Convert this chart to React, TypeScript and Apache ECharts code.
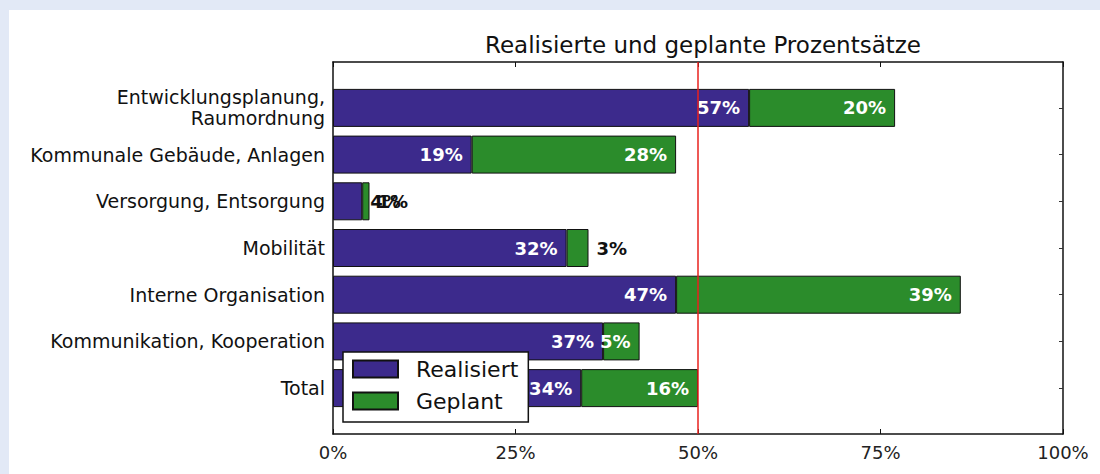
import React, { useEffect, useRef } from "react";
import * as echarts from "echarts";

const categories = [
  "Entwicklungsplanung,\nRaumordnung",
  "Kommunale Gebäude, Anlagen",
  "Versorgung, Entsorgung",
  "Mobilität",
  "Interne Organisation",
  "Kommunikation, Kooperation",
  "Total",
];
const realisiert = [57, 19, 4, 32, 47, 37, 34];
const geplant = [20, 28, 1, 3, 39, 5, 16];
const xTicks = [0, 25, 50, 75, 100];
const referenceLine = 50;

const FONT = "DejaVu Sans";
const PURPLE = "#3c2a8c";
const GREEN = "#2b8c2b";

function labelFor(v: number) {
  if (v >= 5) {
    return {
      show: true,
      position: "insideRight",
      distance: 9,
      color: "#fff",
      fontWeight: "bold",
      fontSize: 18,
      fontFamily: FONT,
      formatter: "{c}%",
    };
  }
  return {
    show: true,
    position: "right",
    distance: 8,
    color: "#111",
    fontWeight: "bold",
    fontSize: 18,
    fontFamily: FONT,
    formatter: "{c}%",
  };
}

export default function App() {
  const ref = useRef<HTMLDivElement>(null);
  useEffect(() => {
    if (!ref.current) return;
    const chart = echarts.init(ref.current, null, { renderer: "svg" });
    const left = 333;
    const width = 730;
    const frameTop = 62;
    const frameH = 372;
    const band = 46.7;
    const innerH = band * categories.length;
    const innerTop = frameTop + (frameH - innerH) / 2;
    const axisLine = { show: true, onZero: false, lineStyle: { color: "#111", width: 1.5 } };
    chart.setOption({
      animation: false,
      backgroundColor: "#fff",
      textStyle: { fontFamily: FONT },
      graphic: [
        { type: "rect", shape: { x: 0, y: 0, width: 1100, height: 10 }, style: { fill: "#e2e9f6" }, silent: true },
        { type: "rect", shape: { x: 0, y: 0, width: 9, height: 474 }, style: { fill: "#e2e9f6" }, silent: true },
      ],
      title: {
        text: "Realisierte und geplante Prozentsätze",
        left: left + width / 2,
        textAlign: "center",
        top: 28,
        textStyle: { fontFamily: FONT, fontSize: 23, fontWeight: "normal", color: "#111" },
      },
      legend: {
        data: ["Realisiert", "Geplant"],
        orient: "vertical",
        left: 343,
        top: 352,
        backgroundColor: "#fff",
        borderColor: "#111",
        borderWidth: 1.5,
        borderRadius: 0,
        padding: [5, 10, 9, 9],
        itemWidth: 45,
        itemHeight: 17,
        itemGap: 8,
        icon: "rect",
        textStyle: { fontFamily: FONT, fontSize: 22, color: "#111", lineHeight: 24, padding: [0, 0, 0, 13] },
        z: 10,
      },
      grid: [
        { left, top: frameTop, width, height: frameH, containLabel: false },
        { left, top: innerTop, width, height: innerH, containLabel: false },
      ],
      xAxis: [
        {
          gridIndex: 0,
          type: "value",
          min: 0,
          max: 100,
          interval: 25,
          position: "bottom",
          axisLine,
          axisTick: { show: true, inside: true, length: 5, lineStyle: { color: "#111", width: 1 } },
          axisLabel: {
            show: true,
            formatter: (v: number) => (xTicks.includes(v) ? `${v}%` : ""),
            fontFamily: FONT,
            fontSize: 18,
            color: "#222",
            margin: 9,
          },
          splitLine: { show: false },
        },
        {
          gridIndex: 0,
          type: "value",
          min: 0,
          max: 100,
          interval: 25,
          position: "top",
          axisLine,
          axisTick: { show: true, inside: true, length: 5, lineStyle: { color: "#111", width: 1 } },
          axisLabel: { show: false },
          splitLine: { show: false },
        },
        {
          gridIndex: 1,
          type: "value",
          min: 0,
          max: 100,
          show: false,
        },
      ],
      yAxis: [
        {
          gridIndex: 0,
          type: "value",
          min: 0,
          max: 1,
          position: "left",
          axisLine,
          axisTick: { show: false },
          axisLabel: { show: false },
          splitLine: { show: false },
        },
        {
          gridIndex: 0,
          type: "value",
          min: 0,
          max: 1,
          position: "right",
          axisLine,
          axisTick: { show: false },
          axisLabel: { show: false },
          splitLine: { show: false },
        },
        {
          gridIndex: 1,
          type: "category",
          data: categories,
          inverse: true,
          position: "left",
          axisLine: { show: false },
          axisTick: { show: true, inside: true, alignWithLabel: true, length: 4, lineStyle: { color: "#333" } },
          axisLabel: {
            fontFamily: FONT,
            fontSize: 19,
            color: "#111",
            margin: 8,
            lineHeight: 21,
            align: "right",
          },
        },
        {
          gridIndex: 1,
          type: "category",
          data: categories,
          inverse: true,
          position: "right",
          axisLine: { show: false },
          axisTick: { show: true, inside: true, alignWithLabel: true, length: 4, lineStyle: { color: "#333" } },
          axisLabel: { show: false },
        },
      ],
      series: [
        {
          name: "Realisiert",
          type: "bar",
          xAxisIndex: 2,
          yAxisIndex: 2,
          stack: "total",
          barWidth: 38,
          itemStyle: { color: PURPLE, borderColor: "#111", borderWidth: 1 },
          data: realisiert.map((v) => ({ value: v, label: labelFor(v) })),
          z: 2,
        },
        {
          name: "Geplant",
          type: "bar",
          xAxisIndex: 2,
          yAxisIndex: 2,
          stack: "total",
          barWidth: 38,
          itemStyle: { color: GREEN, borderColor: "#111", borderWidth: 1 },
          data: geplant.map((v) => ({ value: v, label: labelFor(v) })),
          z: 2,
        },
        {
          name: "ref",
          type: "line",
          xAxisIndex: 0,
          yAxisIndex: 0,
          data: [],
          z: 5,
          silent: true,
          markLine: {
            silent: true,
            symbol: "none",
            label: { show: false },
            lineStyle: { color: "#e8221e", width: 1.5, type: "solid" },
            data: [{ xAxis: referenceLine }],
            z: 5,
          },
        },
      ],
    });
    return () => chart.dispose();
  }, []);
  return (
    <div
      ref={ref}
      style={{ position: "absolute", left: 0, top: 0, width: 1100, height: 474 }}
    />
  );
}
